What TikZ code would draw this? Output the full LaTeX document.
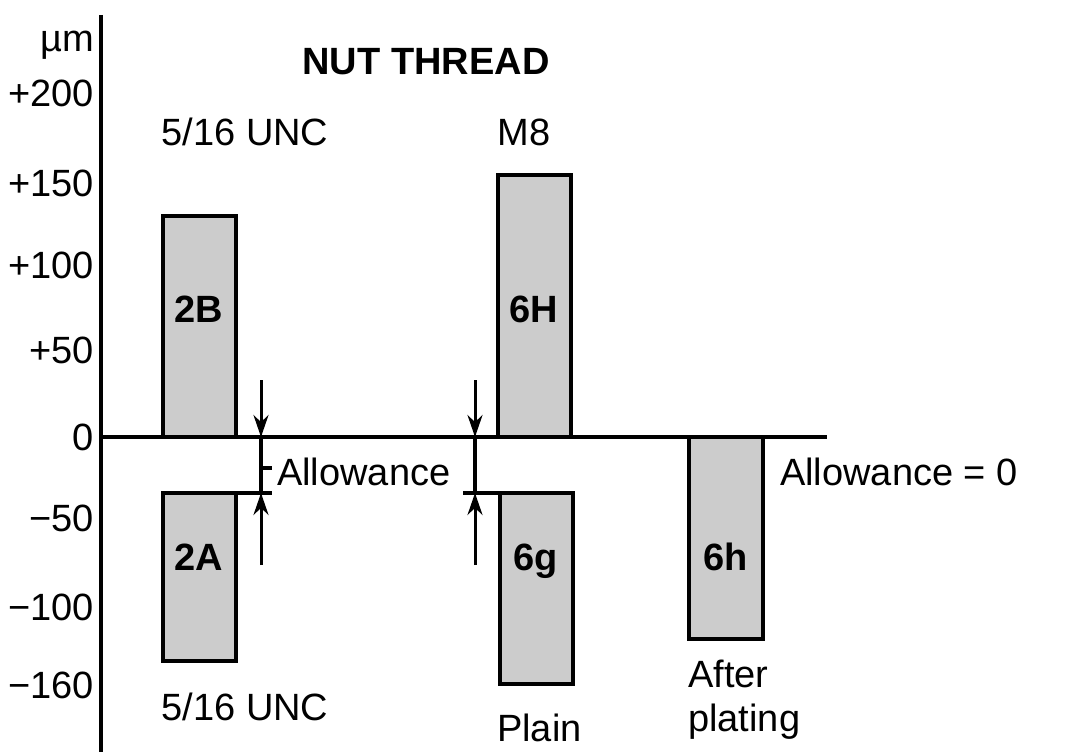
\documentclass[tikz,border=0pt]{standalone}
\usepackage{fontspec}
\setmainfont{Liberation Sans}
\usetikzlibrary{arrows.meta}
\begin{document}
\begin{tikzpicture}[x=1pt,y=-1pt,
  lbl/.style={font=\fontsize{38}{44}\selectfont, inner sep=0pt},
  tick/.style={lbl, anchor=east},
  bar/.style={draw, line width=3.5pt, fill=black!20},
  blab/.style={font=\fontsize{38}{44}\selectfont\bfseries, inner sep=0pt, text height=0.72em, text depth=0pt},
  ln/.style={line width=3.5pt},
  arr/.style={line width=3pt, -{Stealth[length=22pt,width=15pt]}}]
\useasboundingbox (0,0) rectangle (1075,752);
\draw[ln] (101,15) -- (101,752);
\draw[ln] (101,437) -- (827,437);
\node[tick] (t0) at (94,45) {µm};
\node[tick] (t1) at (94,93) {+200};
\node[tick] (t2) at (94,183) {+150};
\node[tick] (t3) at (94,265) {+100};
\node[tick] (t4) at (94,350) {+50};
\node[tick] (t5) at (94,437) {0};
\node[tick] (t6) at (94,518) {−50};
\node[tick] (t7) at (94,607) {−100};
\node[tick] (t8) at (94,685) {−160};
\node[lbl, font=\fontsize{38}{44}\selectfont\bfseries] (title) at (426,62) {NUT THREAD};
\node[lbl] (u1) at (245,132) {5/16 UNC};
\node[lbl] (u2) at (245,707) {5/16 UNC};
\node[lbl] (m8) at (524,132) {M8};
\node[lbl, anchor=west] (plain) at (497,728) {Plain};
\node[lbl, align=left, anchor=west] (after) at (688,700) {After\\plating};
\draw[bar] (163,216) rectangle (236,437);
\draw[bar] (163,493) rectangle (236,661);
\draw[bar] (498,175) rectangle (571,437);
\draw[bar] (500,493) rectangle (573,684);
\draw[bar] (689,437) rectangle (763,639);
\node[blab] (b2B) at (199,319) {2B};
\node[blab] (b2A) at (199,567) {2A};
\node[blab] (b6H) at (534,319) {6H};
\node[blab] (b6g) at (536,567) {6g};
\node[blab] (b6h) at (726,567) {6h};
\draw[ln] (236,493) -- (272,493);
\draw[ln] (463,493) -- (500,493);
\coordinate (a1) at (261,380); \coordinate (a1e) at (261,437);
\coordinate (a2) at (261,565); \coordinate (a2e) at (261,493);
\coordinate (a3) at (475,380); \coordinate (a3e) at (475,437);
\coordinate (a4) at (475,565); \coordinate (a4e) at (475,493);
\draw[arr] (a1) -- (a1e);
\draw[arr] (a2) -- (a2e);
\draw[arr] (a3) -- (a3e);
\draw[arr] (a4) -- (a4e);
\draw[ln] (261,437) -- (261,493);
\draw[ln] (475,437) -- (475,493);
\draw[ln] (261,468) -- (272,468);
\node[lbl, anchor=west] (allow) at (277,472) {Allowance};
\node[lbl, anchor=west] (allow0) at (780,472) {Allowance = 0};
\end{tikzpicture}
\end{document}
